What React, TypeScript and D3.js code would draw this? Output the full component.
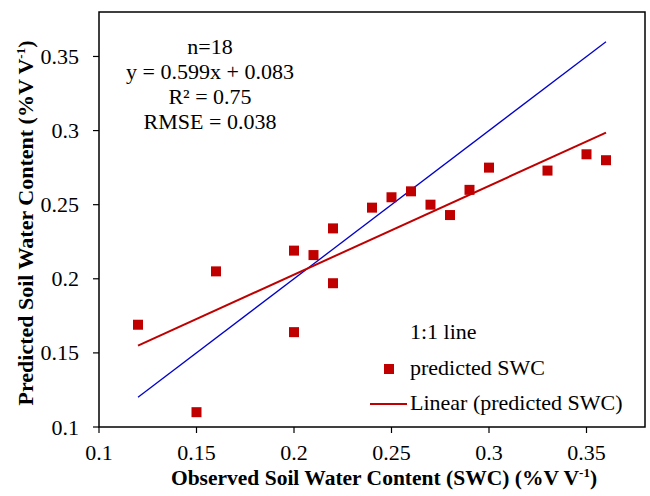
import React from "react";
import * as d3 from "d3";

// Observed vs. predicted soil water content (volumetric)
const observedSWC = [0.12, 0.15, 0.16, 0.2, 0.2, 0.21, 0.22, 0.22, 0.24, 0.25, 0.26, 0.27, 0.28, 0.29, 0.3, 0.33, 0.35, 0.36];
const predictedSWC = [0.169, 0.11, 0.205, 0.219, 0.164, 0.216, 0.234, 0.197, 0.248, 0.255, 0.259, 0.25, 0.243, 0.26, 0.275, 0.273, 0.284, 0.28];

const xTicks = [0.1, 0.15, 0.2, 0.25, 0.3, 0.35];
const yTicks = [0.1, 0.15, 0.2, 0.25, 0.3, 0.35];

const slope = 0.599;
const intercept = 0.083;
const statsLines = ["n=18", "y = 0.599x + 0.083", "R² = 0.75", "RMSE = 0.038"];
const lineRange = [0.12, 0.36];

const W = 650;
const H = 496;
const M = { left: 99, right: 645, top: 12, bottom: 427 };
const FONT = "'Liberation Serif', 'Times New Roman', serif";
const RED = "#C00000";

export default function App() {
  const x = d3.scaleLinear().domain([0.1, 0.38]).range([M.left, M.right]);
  const y = d3.scaleLinear().domain([0.1, 0.38]).range([M.bottom, M.top]);

  const line = d3
    .line<[number, number]>()
    .x((d) => x(d[0]))
    .y((d) => y(d[1]));

  const oneToOne = line(lineRange.map((v) => [v, v] as [number, number]));
  const fit = line(lineRange.map((v) => [v, slope * v + intercept] as [number, number]));

  const sq = 10;

  return (
    <svg
      width={W}
      height={H}
      style={{ position: "absolute", left: 0, top: 0, background: "#fff" }}
      fontFamily={FONT}
    >
      <rect x={0} y={0} width={W} height={H} fill="#fff" />
      {/* plot frame */}
      <rect
        x={M.left}
        y={M.top}
        width={M.right - M.left}
        height={M.bottom - M.top}
        fill="none"
        stroke="#000"
        strokeWidth={1.5}
      />

      {/* x axis ticks */}
      {xTicks.map((t) => (
        <g key={"x" + t}>
          <line x1={x(t)} x2={x(t)} y1={M.bottom} y2={M.bottom + 6} stroke="#000" strokeWidth={1.2} />
          <text x={x(t)} y={460} textAnchor="middle" fontSize={22} fill="#000">
            {String(t)}
          </text>
        </g>
      ))}

      {/* y axis ticks */}
      {yTicks.map((t) => (
        <g key={"y" + t}>
          <line x1={M.left - 6} x2={M.left} y1={y(t)} y2={y(t)} stroke="#000" strokeWidth={1.2} />
          <text x={79} y={y(t) + 7.5} textAnchor="end" fontSize={22} fill="#000">
            {String(t)}
          </text>
        </g>
      ))}

      {/* reference and fitted lines */}
      <path d={oneToOne ?? ""} fill="none" stroke="#0000CC" strokeWidth={1.3} />
      <path d={fit ?? ""} fill="none" stroke={RED} strokeWidth={2} />

      {/* data points */}
      {observedSWC.map((o, i) => (
        <rect
          key={"p" + i}
          x={x(o) - sq / 2}
          y={y(predictedSWC[i]) - sq / 2}
          width={sq}
          height={sq}
          fill={RED}
        />
      ))}

      {/* regression statistics */}
      {statsLines.map((s, i) => (
        <text key={"s" + i} x={210} y={54 + i * 25} textAnchor="middle" fontSize={22} fill="#000">
          {s}
        </text>
      ))}

      {/* legend */}
      <text x={410} y={339} fontSize={22} fill="#000">1:1 line</text>
      <rect x={389 - 5} y={369 - 5} width={10} height={10} fill={RED} />
      <text x={410} y={375} fontSize={22} fill="#000">predicted SWC</text>
      <line x1={370} x2={407} y1={404} y2={404} stroke={RED} strokeWidth={2} />
      <text x={410} y={410} fontSize={22} fill="#000">Linear (predicted SWC)</text>

      {/* axis titles */}
      <text x={384} y={485} textAnchor="middle" fontSize={21.5} fontWeight="bold" fill="#000">
        Observed Soil Water Content (SWC) (%V V
        <tspan dy={-8} fontSize={13}>-1</tspan>
        <tspan dy={8}>)</tspan>
      </text>
      <text
        transform={`translate(33, 223) rotate(-90)`}
        textAnchor="middle"
        fontSize={22}
        fontWeight="bold"
        fill="#000"
      >
        Predicted Soil Water Content (%V V
        <tspan dy={-8} fontSize={13}>-1</tspan>
        <tspan dy={8}>)</tspan>
      </text>
    </svg>
  );
}
